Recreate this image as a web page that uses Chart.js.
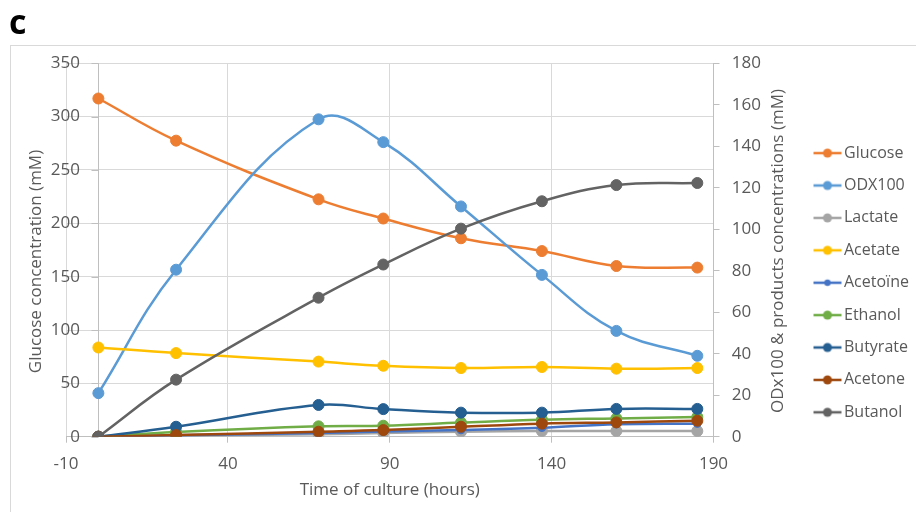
<!DOCTYPE html>
<html>
<head>
<meta charset="utf-8">
<script src="https://cdn.jsdelivr.net/npm/chart.js@4/dist/chart.umd.min.js"></script>
<style>
  html, body { margin: 0; padding: 0; background: #fff; overflow: hidden; }
  #wrap { position: relative; width: 916px; height: 512px; }
  #frame { position: absolute; left: 10px; top: 45px; width: 1000px; height: 1000px;
           border: 1px solid #d9d9d9; box-sizing: border-box; }
  #c { position: absolute; left: 0; top: 0; }
</style>
</head>
<body>
<div id="wrap">
  <div id="frame"></div>
  <canvas id="c" width="916" height="512"></canvas>
</div>
<script>
// Sampling times (hours)
const hours = [0, 24, 68, 88, 112, 137, 160, 185];

// Glucose on the left axis (mM)
const glucose  = [317, 277.5, 222.5, 204.5, 186, 174, 160, 158.5];

// OD x100 and fermentation products on the right axis (mM)
const odx100   = [21, 80.5, 153, 142, 111, 78, 51, 39];
const lactate  = [0, 0.5, 1.2, 1.8, 2.4, 2.7, 2.7, 2.7];
const acetate  = [43, 40.3, 36.2, 34.2, 33.1, 33.6, 32.8, 33.1];
const acetoine = [0, 0.7, 1.8, 2.5, 3.2, 4.3, 6.0, 6.3];
const ethanol  = [0, 2.3, 5.0, 5.3, 6.8, 8.2, 8.8, 9.5];
const butyrate = [0, 4.8, 15.3, 13.3, 11.6, 11.6, 13.4, 13.4];
const acetone  = [0, 0.8, 2.4, 3.2, 4.8, 6.3, 6.9, 7.7];
const butanol  = [0, 27.5, 67, 83, 100.3, 113.5, 121.3, 122.3];

// Series names and the axis each one uses
const seriesNames  = ['Glucose', 'ODX100', 'Lactate', 'Acetate', 'Aceto\u00efne', 'Ethanol', 'Butyrate', 'Acetone', 'Butanol'];
const seriesValues = [glucose, odx100, lactate, acetate, acetoine, ethanol, butyrate, acetone, butanol];
const seriesAxis   = ['y', 'y1', 'y1', 'y1', 'y1', 'y1', 'y1', 'y1', 'y1'];

// Ticks
const xTicks  = { min: -10, max: 190, step: 50 };
const yTicks  = { min: 0, max: 350, step: 50 };
const y1Ticks = { min: 0, max: 180, step: 20 };

// Styling
const seriesColors = ['#ED7D31', '#5B9BD5', '#A5A5A5', '#FFC000', '#4472C4', '#70AD47', '#255E91', '#9E480E', '#636363'];
const seriesRadius = [5.5, 5.5, 5.5, 5.5, 3.8, 5.5, 5.5, 5.5, 5.5];
const textColor = '#595959';
const FONT = 'Open Sans';

// Line-with-dot swatch for the legend
function legendSwatch(color, r) {
  const c = document.createElement('canvas');
  c.width = 30; c.height = 12;
  const g = c.getContext('2d');
  g.strokeStyle = color; g.lineWidth = 2.5;
  g.beginPath(); g.moveTo(1, 6); g.lineTo(29, 6); g.stroke();
  g.fillStyle = color;
  g.beginPath(); g.arc(15, 6, r, 0, Math.PI * 2); g.fill();
  return c;
}
const swatches = seriesColors.map((col, i) => legendSwatch(col, i === 4 ? 3.2 : 4.5));

const datasets = seriesNames.map((name, i) => ({
  label: name,
  data: hours.map((h, k) => ({ x: h, y: seriesValues[i][k] })),
  yAxisID: seriesAxis[i],
  borderColor: seriesColors[i],
  backgroundColor: seriesColors[i],
  pointBackgroundColor: seriesColors[i],
  pointBorderColor: seriesColors[i],
  pointBorderWidth: 1,
  pointRadius: seriesRadius[i],
  borderWidth: 2.5,
  tension: 0.4,
  order: -i
}));

// Vertical axis crossing at time 0, with outward tick marks
const zeroAxis = {
  id: 'zeroAxis',
  beforeDatasetsDraw(chart) {
    const { ctx, chartArea, scales: { x, y } } = chart;
    const px = Math.round(x.getPixelForValue(0)) + 0.5;
    ctx.save();
    ctx.strokeStyle = '#bfbfbf';
    ctx.lineWidth = 1;
    ctx.beginPath();
    ctx.moveTo(px, chartArea.top);
    ctx.lineTo(px, chartArea.bottom);
    y.ticks.forEach(t => {
      const py = Math.round(y.getPixelForValue(t.value)) + 0.5;
      ctx.moveTo(px - 7, py);
      ctx.lineTo(px, py);
    });
    ctx.stroke();
    ctx.restore();
  }
};

// Rotated axis titles (both read bottom to top)
const axisTitles = {
  id: 'axisTitles',
  afterDraw(chart) {
    const { ctx, chartArea, scales } = chart;
    const mid = (chartArea.top + chartArea.bottom) / 2;
    ctx.save();
    ctx.font = '17px "' + FONT + '"';
    ctx.fillStyle = textColor;
    ctx.textAlign = 'center';
    ctx.textBaseline = 'middle';
    [[scales.y.left + 27.5, mid + 11.5, 'Glucose concentration (mM)'],
     [scales.y1.left + 64.8, mid + 1, 'ODx100 & products concentrations (mM)']].forEach(([tx, ty, text]) => {
      ctx.save();
      ctx.translate(tx, ty);
      ctx.rotate(-Math.PI / 2);
      ctx.fillText(text, 0, 0);
      ctx.restore();
    });
    ctx.restore();
  }
};

new Chart(document.getElementById('c'), {
  type: 'line',
  data: { datasets },
  plugins: [zeroAxis, axisTitles],
  options: {
    responsive: false,
    animation: false,
    devicePixelRatio: 1,
    layout: { padding: { left: 9, right: 0, top: 0, bottom: 0 } },
    plugins: {
      title: {
        display: true, text: 'c', align: 'start', color: '#000',
        font: { family: FONT, weight: 'bold', size: 34, lineHeight: 1 },
        padding: { top: 7, bottom: 22.3 }
      },
      tooltip: { enabled: false },
      legend: {
        position: 'right', align: 'end', fullSize: false, maxWidth: 113.4,
        labels: {
          usePointStyle: true, pointStyleWidth: 17, padding: 16.4,
          color: textColor, font: { family: FONT, size: 16 },
          generateLabels(chart) {
            return chart.data.datasets.map((ds, i) => ({
              text: ds.label, datasetIndex: i, pointStyle: swatches[i],
              fillStyle: ds.borderColor, strokeStyle: ds.borderColor,
              lineWidth: 0, hidden: false, fontColor: textColor
            }));
          }
        }
      }
    },
    scales: {
      x: {
        type: 'linear', min: xTicks.min, max: xTicks.max,
        ticks: { stepSize: xTicks.step, padding: 10.8, color: textColor, font: { family: FONT, size: 17 } },
        grid: { color: '#d9d9d9', tickColor: '#bfbfbf', tickLength: 6 },
        border: { color: '#bfbfbf' },
        title: { display: true, text: 'Time of culture (hours)', color: textColor,
                 font: { family: FONT, size: 17 }, padding: { top: 0, bottom: 11.8 } },
        afterFit: s => { s.height = 75.3; }
      },
      y: {
        position: 'left', min: yTicks.min, max: yTicks.max,
        ticks: { stepSize: yTicks.step, mirror: true, crossAlign: 'far', padding: -15.2,
                 color: textColor, font: { family: FONT, size: 17 } },
        grid: { color: '#d9d9d9', drawTicks: false },
        border: { display: false },
        afterFit: s => { s.width = 57; }
      },
      y1: {
        position: 'right', min: y1Ticks.min, max: y1Ticks.max,
        ticks: { stepSize: y1Ticks.step, padding: 12.2, color: textColor, font: { family: FONT, size: 17 } },
        grid: { drawOnChartArea: false, color: '#bfbfbf', tickLength: 6 },
        border: { color: '#bfbfbf' },
        afterFit: s => { s.width = 89.1; }
      }
    }
  }
});
</script>
</body>
</html>
